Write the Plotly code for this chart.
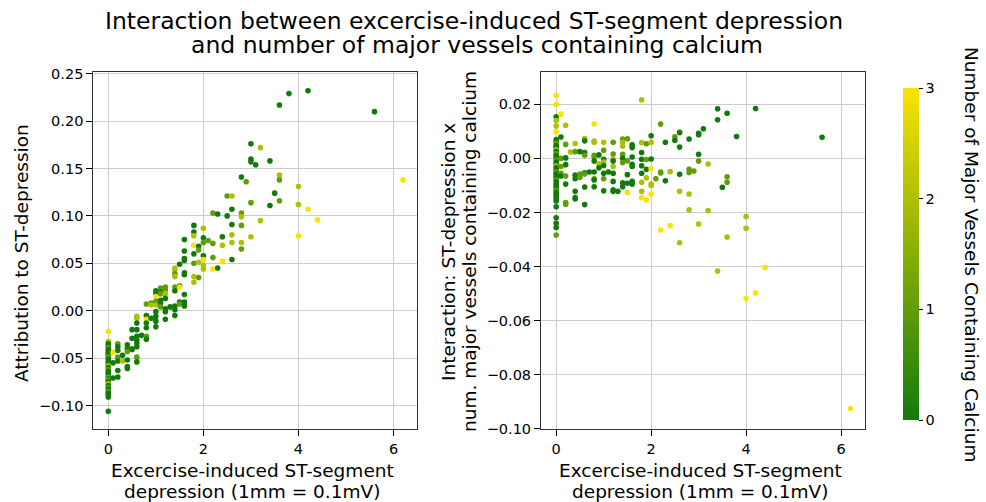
import plotly.graph_objects as go

# ---------------- Left panel: attribution to ST-depression ----------------
left_oldpeak = [
    0, 0, 0, 0, 0, 0, 0, 0, 0, 0, 0, 0, 0, 0, 0, 0, 0,
    0, 0, 0, 0, 0, 0, 0, 0, 0, 0, 0, 0, 0, 0, 0, 0, 0,
    0.1, 0.1, 0.1,
    0.2, 0.2, 0.2, 0.2, 0.2, 0.2, 0.2,
    0.3, 0.3,
    0.4, 0.4, 0.4, 0.4, 0.4, 0.4,
    0.5, 0.5, 0.5, 0.5,
    0.6, 0.6, 0.6, 0.6, 0.6, 0.6, 0.6, 0.6, 0.6, 0.6,
    0.7,
    0.8, 0.8, 0.8, 0.8, 0.8, 0.8, 0.8,
    0.9, 0.9, 0.9,
    1.0, 1.0, 1.0, 1.0, 1.0, 1.0, 1.0, 1.0, 1.0,
    1.1, 1.1, 1.1, 1.1, 1.1, 1.1,
    1.2, 1.2, 1.2, 1.2, 1.2, 1.2, 1.2,
    1.3,
    1.4, 1.4, 1.4, 1.4, 1.4, 1.4, 1.4, 1.4, 1.4,
    1.5, 1.5, 1.5, 1.5, 1.5,
    1.6, 1.6, 1.6, 1.6, 1.6, 1.6, 1.6, 1.6, 1.6,
    1.8, 1.8, 1.8, 1.8, 1.8, 1.8, 1.8, 1.8,
    1.9, 1.9, 1.9, 1.9,
    2.0, 2.0, 2.0, 2.0, 2.0, 2.0, 2.0,
    2.1,
    2.2, 2.2, 2.2, 2.2,
    2.3, 2.3,
    2.4, 2.4, 2.4,
    2.5, 2.5,
    2.6, 2.6, 2.6, 2.6, 2.6, 2.6,
    2.8, 2.8, 2.8, 2.8, 2.8, 2.8,
    2.9,
    3.0, 3.0, 3.0, 3.0, 3.0,
    3.1,
    3.2, 3.2,
    3.4, 3.4,
    3.5,
    3.6, 3.6, 3.6, 3.6,
    3.8,
    4.0, 4.0, 4.0,
    4.2, 4.2,
    4.4,
    5.6,
    6.2,
]
left_attribution = [
    -0.022, -0.032, -0.033, -0.035, -0.037, -0.039, -0.041, -0.043, -0.045, -0.047, -0.049, -0.051, -0.053, -0.055, -0.057, -0.058, -0.060,
    -0.062, -0.064, -0.066, -0.068, -0.070, -0.072, -0.073, -0.075, -0.077, -0.079, -0.081, -0.083, -0.085, -0.087, -0.089, -0.091, -0.106,
    -0.044, -0.055, -0.071,
    -0.035, -0.038, -0.042, -0.049, -0.053, -0.063, -0.070,
    -0.047, -0.053,
    -0.036, -0.040, -0.043, -0.052, -0.059, -0.061,
    -0.020, -0.029, -0.040, -0.041,
    -0.006, -0.008, -0.013, -0.020, -0.027, -0.031, -0.034, -0.038, -0.049, -0.054,
    -0.026,
    0.007, -0.005, -0.009, -0.013, -0.018, -0.027, -0.030,
    0.008, 0.006, -0.008,
    0.021, 0.018, 0.015, 0.010, 0.006, -0.001, -0.006, -0.011, -0.017,
    0.024, 0.020, 0.018, 0.011, 0.008, 0.004,
    0.025, 0.022, 0.018, 0.013, 0.002, -0.001, -0.009,
    0.004,
    0.045, 0.043, 0.039, 0.036, 0.025, 0.021, 0.005, 0.001, -0.005,
    0.049, 0.026, 0.025, 0.009, 0.007,
    0.075, 0.063, 0.055, 0.053, 0.040, 0.038, 0.017, 0.009, 0.005,
    0.090, 0.083, 0.079, 0.069, 0.060, 0.050, 0.036, 0.030,
    0.068, 0.064, 0.051, 0.035,
    0.087, 0.077, 0.072, 0.058, 0.054, 0.048, 0.044,
    0.074,
    0.103, 0.071, 0.056, 0.044,
    0.102, 0.045,
    0.078, 0.069, 0.052,
    0.121, 0.100,
    0.121, 0.107, 0.091, 0.080, 0.072, 0.054,
    0.141, 0.103, 0.099, 0.090, 0.072, 0.065,
    0.136,
    0.176, 0.160, 0.157, 0.114, 0.078,
    0.154,
    0.172, 0.095,
    0.158, 0.111,
    0.124,
    0.217, 0.143, 0.138, 0.116,
    0.229,
    0.131, 0.112, 0.079,
    0.232, 0.107,
    0.096,
    0.210,
    0.138,
]
left_vessels = [
    3, 3, 2, 0, 0, 1, 0, 0, 0, 0, 1, 0, 0, 0, 0, 2, 0,
    1, 0, 0, 0, 1, 0, 1, 0, 2, 0, 1, 0, 1, 0, 0, 0, 0,
    3, 0, 0,
    1, 0, 0, 1, 0, 0, 0,
    0, 2,
    0, 0, 1, 0, 0, 0,
    0, 0, 1, 0,
    2, 2, 0, 0, 0, 0, 0, 0, 1, 0,
    0,
    1, 0, 3, 0, 0, 1, 0,
    1, 2, 0,
    0, 0, 3, 1, 2, 0, 0, 0, 0,
    1, 0, 1, 0, 0, 1,
    1, 1, 2, 0, 0, 0, 0,
    0,
    2, 2, 1, 2, 1, 0, 0, 0, 0,
    0, 0, 3, 0, 1,
    0, 0, 0, 0, 0, 0, 0, 0, 0,
    0, 0, 2, 3, 0, 1, 2, 2,
    0, 1, 2, 1,
    2, 0, 1, 0, 3, 2, 2,
    1,
    1, 1, 1, 3,
    0, 0,
    0, 2, 3,
    1, 0,
    2, 0, 0, 2, 2, 0,
    0, 1, 2, 1, 2, 1,
    1,
    0, 0, 0, 1, 2,
    0,
    2, 2,
    0, 0,
    0,
    0, 2, 1, 1,
    0,
    2, 2, 3,
    0, 3,
    3,
    0,
    3,
]

# ---------------- Right panel: interaction values ----------------
right_oldpeak = [
    0, 0, 0, 0, 0, 0, 0, 0, 0, 0, 0, 0, 0, 0, 0, 0, 0, 0, 0, 0, 0,
    0, 0, 0, 0, 0, 0, 0, 0, 0, 0, 0, 0, 0, 0, 0, 0, 0, 0, 0, 0, 0,
    0.1, 0.1, 0.1, 0.1, 0.1, 0.1,
    0.2, 0.2, 0.2, 0.2, 0.2, 0.2, 0.2, 0.2,
    0.3,
    0.4, 0.4, 0.4, 0.4, 0.4, 0.4, 0.4,
    0.5, 0.5, 0.5,
    0.6, 0.6, 0.6, 0.6, 0.6, 0.6, 0.6, 0.6,
    0.7,
    0.8, 0.8, 0.8, 0.8, 0.8, 0.8, 0.8, 0.8, 0.8, 0.8,
    0.9, 0.9, 0.9,
    1.0, 1.0, 1.0, 1.0, 1.0, 1.0, 1.0, 1.0,
    1.1,
    1.2, 1.2, 1.2, 1.2, 1.2, 1.2, 1.2, 1.2, 1.2,
    1.3,
    1.4, 1.4, 1.4, 1.4, 1.4, 1.4, 1.4, 1.4,
    1.5, 1.5, 1.5, 1.5, 1.5,
    1.6, 1.6, 1.6, 1.6, 1.6, 1.6, 1.6,
    1.8, 1.8, 1.8, 1.8, 1.8, 1.8, 1.8, 1.8, 1.8,
    1.9, 1.9, 1.9, 1.9, 1.9,
    2.0, 2.0, 2.0, 2.0, 2.0, 2.0, 2.0,
    2.1,
    2.2, 2.2, 2.2, 2.2,
    2.3, 2.3,
    2.4, 2.4,
    2.5, 2.5,
    2.6, 2.6, 2.6, 2.6, 2.6, 2.6,
    2.8, 2.8, 2.8, 2.8, 2.8,
    2.9,
    3.0, 3.0, 3.0, 3.0, 3.0,
    3.1,
    3.2, 3.2,
    3.4, 3.4, 3.4,
    3.5,
    3.6, 3.6, 3.6, 3.6,
    3.8,
    4.0, 4.0, 4.0,
    4.2, 4.2,
    4.4,
    5.6,
    6.2,
]
right_interaction = [
    0.0233, 0.0200, 0.0154, 0.0140, 0.0120, 0.0099, 0.0070, 0.0062, 0.0055, 0.0047, 0.0040, 0.0032, 0.0025, 0.0017, 0.0010, 0.0002, -0.0006, -0.0013, -0.0020, -0.0028, -0.0035,
    -0.0043, -0.0050, -0.0057, -0.0064, -0.0072, -0.0080, -0.0087, -0.0095, -0.0102, -0.0110, -0.0118, -0.0125, -0.0133, -0.0141, -0.0150, -0.0158, -0.0179, -0.0220, -0.0240, -0.0256, -0.0284,
    0.0164, 0.0079, 0.0000, -0.0030, -0.0055, -0.0065,
    0.0123, 0.0052, 0.0002, -0.0023, -0.0065, -0.0095, -0.0163, -0.0170,
    0.0024,
    0.0055, 0.0025, -0.0062, -0.0075, -0.0122, -0.0145, -0.0150,
    0.0025, -0.0058, -0.0070,
    0.0074, 0.0065, 0.0022, 0.0012, -0.0053, -0.0058, -0.0106, -0.0171,
    -0.0050,
    0.0128, 0.0064, 0.0060, 0.0012, 0.0005, -0.0010, -0.0050, -0.0075, -0.0080, -0.0105,
    0.0013, -0.0020, -0.0035,
    0.0060, 0.0030, -0.0003, -0.0013, -0.0026, -0.0055, -0.0075, -0.0120,
    -0.0050,
    0.0060, 0.0016, -0.0003, -0.0010, -0.0030, -0.0055, -0.0085, -0.0122, -0.0116,
    -0.0122,
    0.0072, 0.0060, 0.0045, 0.0015, 0.0000, -0.0015, -0.0090, -0.0105,
    0.0073, -0.0009, -0.0060, -0.0092, -0.0126,
    0.0050, 0.0040, 0.0005, -0.0022, -0.0030, -0.0085, -0.0095,
    0.0217, 0.0059, 0.0022, -0.0003, -0.0027, -0.0055, -0.0088, -0.0122, -0.0145,
    0.0054, -0.0004, -0.0040, -0.0072, -0.0154,
    0.0084, 0.0060, -0.0002, -0.0038, -0.0095, -0.0100, -0.0132,
    -0.0075,
    0.0127, -0.0050, -0.0054, -0.0265,
    0.0060, -0.0083,
    -0.0049, -0.0249,
    0.0080, 0.0067,
    0.0099, 0.0095, 0.0042, -0.0059, -0.0122, -0.0312,
    0.0072, -0.0040, -0.0052, -0.0132, -0.0190,
    -0.0047,
    0.0093, 0.0088, 0.0015, -0.0010, -0.0243,
    0.0110,
    -0.0021, -0.0193,
    0.0184, 0.0143, -0.0417,
    -0.0107,
    0.0167, -0.0068, -0.0088, -0.0291,
    0.0081,
    -0.0215, -0.0259, -0.0519,
    0.0185, -0.0498,
    -0.0404,
    0.0078,
    -0.0926,
]
right_vessels = [
    3, 3, 0, 2, 2, 3, 0, 0, 1, 0, 0, 2, 0, 1, 0, 0, 1, 0, 0, 2, 0,
    0, 1, 0, 0, 0, 1, 0, 0, 0, 0, 1, 0, 0, 0, 0, 0, 0, 0, 0, 0, 1,
    3, 0, 1, 1, 1, 0,
    2, 1, 0, 0, 1, 0, 1, 1,
    2,
    2, 1, 0, 0, 0, 0, 0,
    0, 1, 1,
    2, 0, 0, 1, 0, 1, 0, 0,
    0,
    3, 2, 2, 1, 1, 0, 0, 1, 0, 0,
    0, 2, 0,
    2, 1, 0, 2, 0, 0, 1, 0,
    0,
    1, 1, 2, 0, 2, 0, 0, 0, 0,
    0,
    1, 2, 2, 1, 0, 1, 0, 0,
    1, 1, 0, 0, 3,
    0, 0, 0, 0, 0, 0, 0,
    2, 2, 0, 0, 0, 0, 2, 2, 3,
    1, 1, 0, 2, 3,
    0, 2, 0, 3, 2, 2, 3,
    1,
    1, 1, 1, 3,
    0, 0,
    2, 3,
    1, 0,
    2, 0, 0, 0, 2, 2,
    0, 1, 1, 2, 2,
    1,
    0, 0, 0, 1, 2,
    0,
    2, 2,
    0, 0, 2,
    0,
    0, 1, 1, 2,
    0,
    2, 2, 3,
    0, 3,
    3,
    0,
    3,
]

assert len(left_oldpeak) == len(left_attribution) == len(left_vessels)
assert len(right_oldpeak) == len(right_interaction) == len(right_vessels)

colorbar_ticks = [0, 1, 2, 3]
colorscale = [[0.0, "#127a0c"], [1.0, "#fbe300"]]
FONT = "DejaVu Sans, Verdana, sans-serif"
W, H = 986, 502


def px_x(p):
    return p / W


def px_y(p):
    return 1 - p / H


fig = go.Figure()
fig.add_trace(go.Scatter(
    x=left_oldpeak, y=left_attribution, mode="markers",
    marker=dict(size=5.6, color=left_vessels, colorscale=colorscale, cmin=0, cmax=3,
                line=dict(width=0), showscale=False),
    xaxis="x", yaxis="y", hoverinfo="x+y",
))
fig.add_trace(go.Scatter(
    x=right_oldpeak, y=right_interaction, mode="markers",
    marker=dict(size=5.6, color=right_vessels, colorscale=colorscale, cmin=0, cmax=3,
                line=dict(width=0), showscale=True,
                colorbar=dict(x=px_x(903), xanchor="left", xpad=0, ypad=0,
                              y=px_y(254), yanchor="middle", len=(420 - 88) / H, lenmode="fraction",
                              thickness=16, outlinewidth=0,
                              tickvals=colorbar_ticks, ticktext=[str(t) for t in colorbar_ticks],
                              ticks="outside", ticklen=4, tickcolor="black",
                              tickfont=dict(size=14.5, color="black", family=FONT))),
    xaxis="x2", yaxis="y2", hoverinfo="x+y",
))

axis_common = dict(
    showgrid=True, gridcolor="#cccccc", gridwidth=1, zeroline=False,
    showline=True, mirror=True, linecolor="#333333", linewidth=1,
    ticks="outside", ticklen=6, tickcolor="black", automargin=False,
    tickfont=dict(size=14.5, color="black", family=FONT),
)
ydom = [px_y(429.3), px_y(72)]
fig.update_layout(
    width=W, height=H,
    margin=dict(l=0, r=0, t=0, b=0, pad=0, autoexpand=False),
    paper_bgcolor="white", plot_bgcolor="white",
    showlegend=False,
    font=dict(family=FONT, color="black"),
    xaxis=dict(domain=[px_x(93.3), px_x(417.3)], range=[-0.316, 6.50], tickvals=[0, 2, 4, 6], anchor="y", **axis_common),
    yaxis=dict(domain=ydom, range=[-0.1251, 0.2518], dtick=0.05, tick0=0, tickformat=".2f", anchor="x", **axis_common),
    xaxis2=dict(domain=[px_x(541), px_x(865)], range=[-0.32, 6.505], tickvals=[0, 2, 4, 6], anchor="y2", **axis_common),
    yaxis2=dict(domain=ydom, range=[-0.1003, 0.0320], dtick=0.02, tick0=0, tickformat=".2f", anchor="x2", **axis_common),
)

annotations = [
    dict(text="Interaction between excercise-induced ST-segment depression",
         x=px_x(474), y=px_y(21), font=dict(size=23.5)),
    dict(text="and number of major vessels containing calcium",
         x=px_x(477), y=px_y(45), font=dict(size=23.5)),
    dict(text="Excercise-induced ST-segment", x=px_x(252), y=px_y(470), font=dict(size=18.5)),
    dict(text="depression (1mm = 0.1mV)", x=px_x(252), y=px_y(491), font=dict(size=18.5)),
    dict(text="Excercise-induced ST-segment", x=px_x(700), y=px_y(470), font=dict(size=18.5)),
    dict(text="depression (1mm = 0.1mV)", x=px_x(700), y=px_y(491), font=dict(size=18.5)),
    dict(text="Attribution to ST-depression", textangle=-90,
         x=px_x(21), y=px_y(253), font=dict(size=18.5)),
    dict(text="Interaction: ST-depression x", textangle=-90,
         x=px_x(448), y=px_y(252), font=dict(size=18.5)),
    dict(text="num. major vessels containing calcium", textangle=-90,
         x=px_x(469), y=px_y(252), font=dict(size=18.5)),
    dict(text="Number of Major Vessels Containing Calcium", textangle=90,
         x=px_x(972), y=px_y(254), font=dict(size=18.5)),
]
for a in annotations:
    a.update(xref="paper", yref="paper", showarrow=False, xanchor="center", yanchor="middle")
    a["font"].update(family=FONT, color="black")
fig.update_layout(annotations=annotations)

# The browser's default 8px body margin would shift the figure; remove it.
fig.write_html("out.html",
               config={"displayModeBar": False},
               post_script="document.body.style.margin='0';document.body.style.padding='0';document.body.style.overflow='hidden';")
